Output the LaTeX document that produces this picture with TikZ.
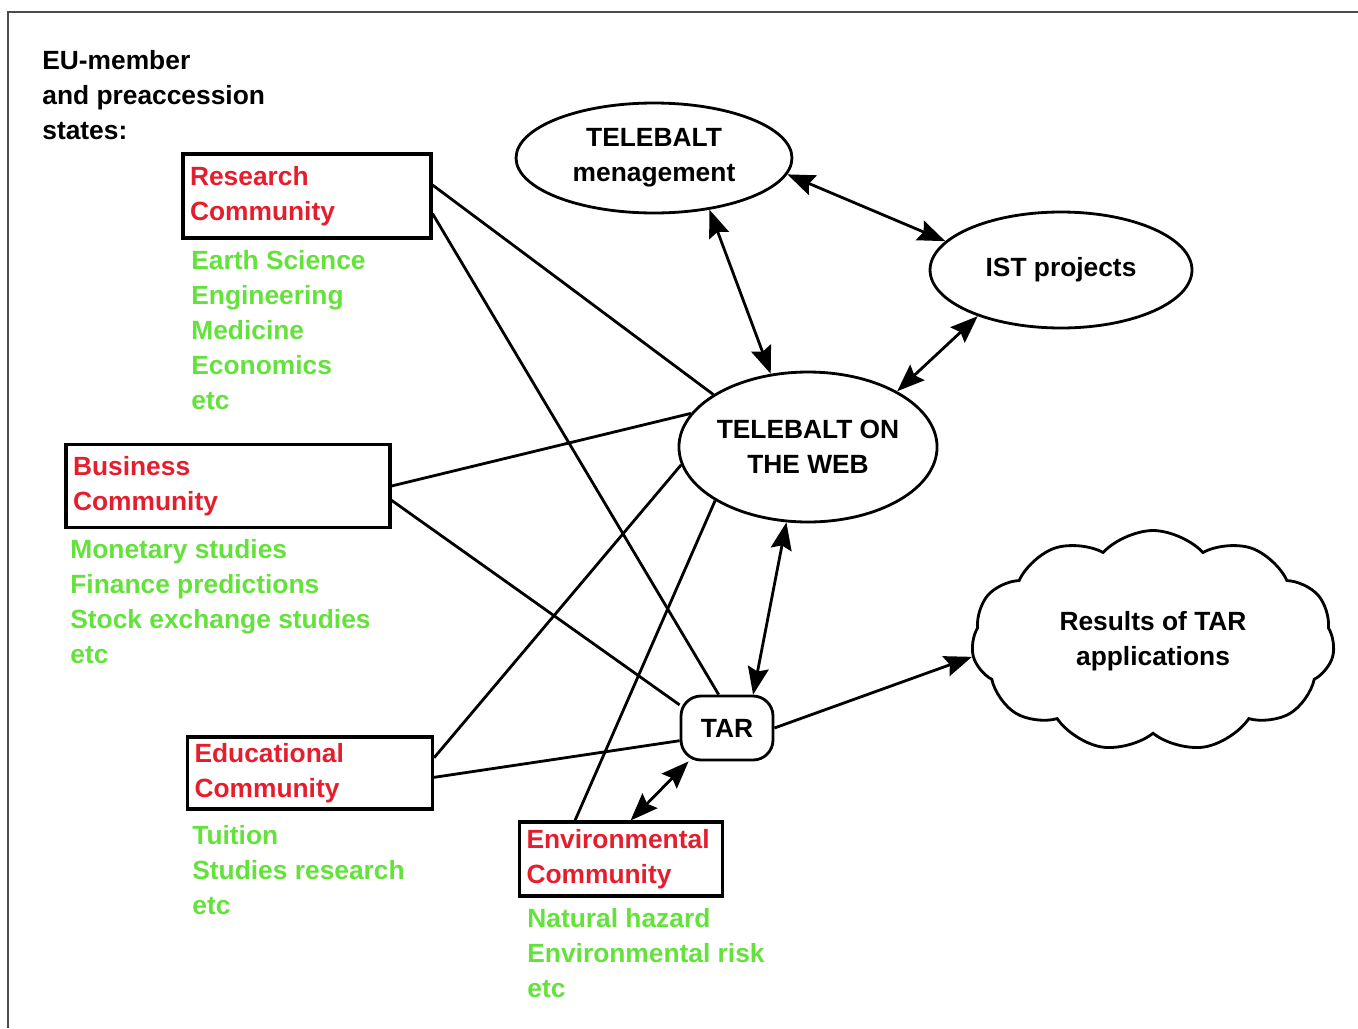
\documentclass[tikz,border=0pt]{standalone}
\usepackage{fontspec}
\setmainfont{Liberation Sans}
\usetikzlibrary{shapes.geometric,shapes.symbols,arrows.meta}
\definecolor{commred}{RGB}{228,30,45}
\definecolor{fieldgreen}{RGB}{100,226,60}

\begin{document}
\begin{tikzpicture}[x=0.02cm,y=-0.02cm,
    every node/.style={font=\fontsize{15}{19.9}\selectfont\bfseries},
    comm/.style={draw,line width=1.8pt,align=left,text=commred,inner xsep=0.14cm,inner ysep=0pt},
    field/.style={text=fieldgreen,align=left,anchor=north west,inner sep=0pt},
    oval/.style={draw,ellipse,line width=1.6pt,inner sep=0pt,align=center},
    link/.style={line width=1.6pt},
    tip/.tip={Stealth[length=5.5mm,width=4.2mm,inset=0.8mm]},
    both/.style={link,tip-tip}]
  \useasboundingbox (0,0) rectangle (1358,1028);
  \draw[line width=1pt,black!70] (8,1028) -- (8,12) -- (1358,12);

  \node[align=left,anchor=north west,inner sep=0pt] (states) at (42,50)
    {EU-member\\and preaccession\\states:};

  % communities
  \node[comm,text width=4.68cm,minimum height=1.68cm] (rc) at (307,196) {Research\\Community};
  \node[comm,text width=6.2cm,minimum height=1.66cm] (bc) at (228,486) {Business\\Community};
  \node[comm,text width=4.62cm,minimum height=1.44cm] (ec) at (310,773) {Educational\\Community};
  \node[comm,text width=3.78cm,minimum height=1.48cm] (envc) at (621,859) {Environmental\\Community};

  \node[field] (rcf) at (191,250) {Earth Science\\Engineering\\Medicine\\Economics\\etc};
  \node[field] (bcf) at (70,539) {Monetary studies\\Finance predictions\\Stock exchange studies\\etc};
  \node[field] (ecf) at (192,825) {Tuition\\Studies research\\etc};
  \node[field] (envf) at (527,908) {Natural hazard\\Environmental risk\\etc};

  % telebalt
  \node[oval,minimum width=5.52cm,minimum height=2.2cm] (mgmt) at (654,158) {TELEBALT\\menagement};
  \node[oval,minimum width=5.24cm,minimum height=2.32cm] (ist) at (1061,270) {IST projects};
  \node[oval,minimum width=5.12cm,minimum height=3cm] (web) at (808,447) {TELEBALT ON\\THE WEB};
  \node[draw,line width=1.6pt,rounded corners=0.4cm,minimum width=1.84cm,minimum height=1.28cm] (tar) at (727,728) {TAR};
  \node[draw,cloud,cloud puffs=11,cloud puff arc=95,aspect=1.65,minimum width=7.26cm,
        minimum height=4.42cm,line width=1.6pt,align=center,inner sep=0pt] (res) at (1153,641)
    {Results of TAR\\applications};

  \path[link]
    (rc.5) edge (web.151)
    (rc.-8) edge (tar.104)
    (bc.0) edge (web.164)
    (bc.-5) edge (tar.154)
    (ec.7) edge (web.188)
    (ec.-2) edge (tar.195)
    (envc.140) edge (web.210);
  \path[both]
    (mgmt.-43) edge (web.117)
    (mgmt.-7) edge (ist.166)
    (ist.209) edge (web.32)
    (web.254) edge (tar.52)
    (tar.221) edge (envc.76);
  \draw[link,-tip] (tar.east) -- (res.185);
\end{tikzpicture}
\end{document}
